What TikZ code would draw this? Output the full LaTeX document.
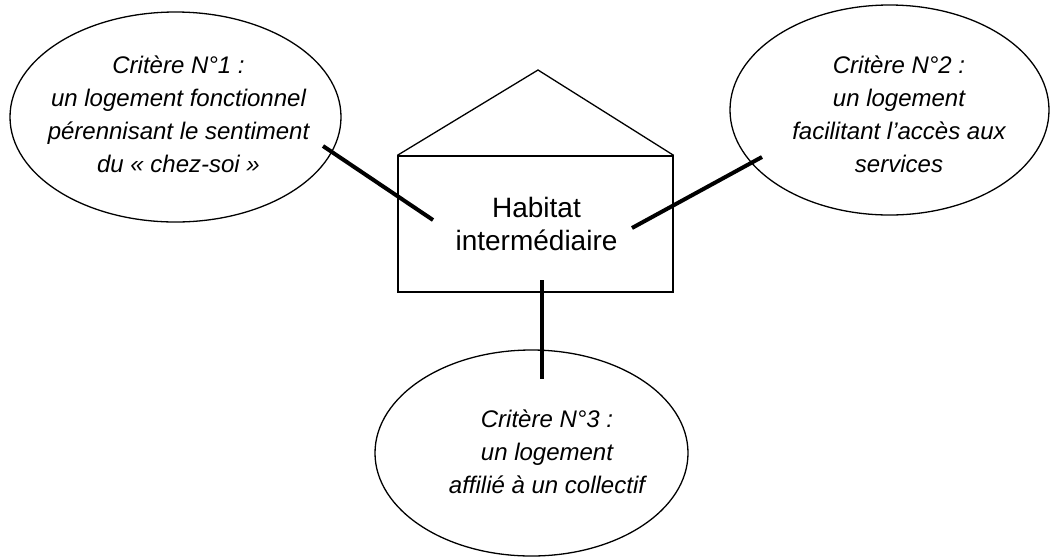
\documentclass[tikz,border=0pt]{standalone}
\usepackage{fontspec}
\setmainfont{Liberation Sans}
\usetikzlibrary{shapes.geometric}
\begin{document}
\begin{tikzpicture}[x=1pt,y=-1pt,
  bubble/.style={draw, ellipse, line width=1.3pt, inner sep=0pt},
  crit/.style={anchor=base, inner sep=0pt, font=\itshape\fontsize{24}{33.3}\selectfont},
  housebox/.style={draw, rectangle, line width=1.3pt, inner sep=0pt},
  houselabel/.style={anchor=base, inner sep=0pt, font=\fontsize{28}{33}\selectfont},
  link/.style={line width=4pt},
  outline/.style={line width=1.3pt, line join=miter}]
\useasboundingbox (0,0) rectangle (1050,558);

% ellipses
\node[bubble, minimum width=331pt, minimum height=210pt] (e1) at (175.5,117) {};
\node[bubble, minimum width=319pt, minimum height=210pt] (e2) at (889.5,110) {};
\node[bubble, minimum width=313pt, minimum height=206pt] (e3) at (531.5,453) {};

% texts
\node[crit] (t1) at (178.5,73) {\begin{tabular}[t]{@{}c@{}}Critère N°1 :\\ un logement fonctionnel\\ pérennisant le sentiment\\ du « chez-soi »\end{tabular}};
\node[crit] (t2) at (899,73) {\begin{tabular}[t]{@{}c@{}}Critère N°2 :\\ un logement\\ facilitant l’accès aux\\ services\end{tabular}};
\node[crit] (t3) at (547,427) {\begin{tabular}[t]{@{}c@{}}Critère N°3 :\\ un logement\\ affilié à un collectif\end{tabular}};

% house
\node[housebox, minimum width=275pt, minimum height=136pt] (box) at (535.5,224) {};
\coordinate (apex) at (538,70);
\draw[outline] (box.north west) -- (apex) -- (box.north east);
\node[houselabel] (hl) at (536.5,217) {\begin{tabular}[t]{@{}c@{}}Habitat\\ intermédiaire\end{tabular}};

% connectors
\coordinate (l1a) at (323,146);
\coordinate (l1b) at (433,220);
\coordinate (l2a) at (762,157);
\coordinate (l2b) at (632,228);
\coordinate (l3a) at (542,280);
\coordinate (l3b) at (542,379);
\draw[link] (l1a) -- (l1b);
\draw[link] (l2a) -- (l2b);
\draw[link] (l3a) -- (l3b);
\end{tikzpicture}
\end{document}
